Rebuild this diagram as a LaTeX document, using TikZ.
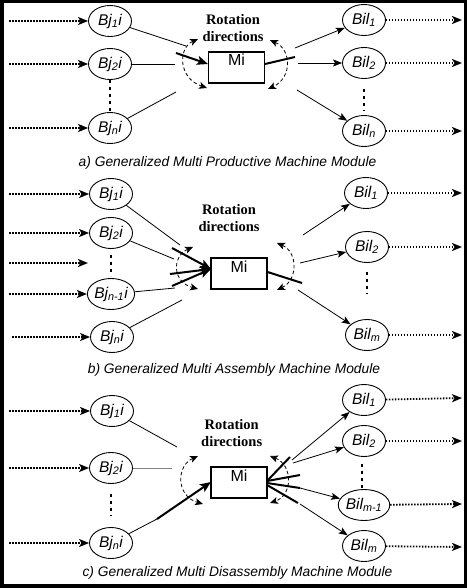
\documentclass[tikz,border=0pt]{standalone}
\usepackage{fontspec}
\setmainfont{Liberation Serif}
\setsansfont{Liberation Sans}
\usetikzlibrary{arrows.meta,shapes.geometric,calc}
\newcommand{\BJ}[1]{Bj\textsubscript{#1}i}
\newcommand{\BIL}[1]{Bil\textsubscript{#1}}
\tikzset{
 bub/.style={draw, ellipse, line width=0.9pt, minimum width=43pt, minimum height=31pt, inner sep=0pt, font=\sffamily\itshape\fontsize{15.5}{15.5}\selectfont},
 feed/.style={line width=1.8pt, dash pattern=on 1.5pt off 1.5pt, -{Stealth[length=10pt,width=8pt,inset=2.5pt]}},
 vdots/.style={line width=2.4pt, dash pattern=on 3pt off 4pt},
 link/.style={line width=0.8pt},
 linkarrow/.style={line width=0.8pt, -{Stealth[length=9pt,width=7pt,inset=2pt]}},
 heavy/.style={line width=2pt},
 heavyarrow/.style={line width=2pt, -{Stealth[length=11pt,width=9pt,inset=2.5pt]}},
 rot/.style={dashed, line width=0.8pt, dash pattern=on 3.5pt off 2.5pt, {Stealth[length=8pt,width=7pt,inset=2pt]}-{Stealth[length=8pt,width=7pt,inset=2pt]}},
 machine/.style={draw, line width=1.1pt, minimum width=56pt, minimum height=31pt, inner sep=0pt},
 mitext/.style={font=\sffamily\fontsize{16}{16}\selectfont, anchor=north, inner sep=0pt},
 rottext/.style={font=\bfseries\fontsize{14.5}{17}\selectfont, align=center, inner sep=0pt},
 captext/.style={font=\sffamily\itshape\fontsize{13.8}{14}\selectfont, inner sep=0pt},
}
\begin{document}
\begin{tikzpicture}[x=1pt,y=-1pt]
\path[use as bounding box] (0,0) rectangle (466,588);
\draw[line width=3.5pt] (2,1.5) rectangle (466,586);

% ---------------- panel a ----------------
\node[bub] (a1) at (110,21) {\BJ{1}};
\node[bub] (a2) at (110,64) {\BJ{2}};
\node[bub] (an) at (110,128) {\BJ{n}};
\node[bub] (o1) at (364,20) {\BIL{1}};
\node[bub] (o2) at (364,63) {\BIL{2}};
\node[bub] (on) at (364,131) {\BIL{n}};
\coordinate (fa1) at (9,21); \coordinate (fa2) at (9,64); \coordinate (fan) at (9,128);
\coordinate (ga1) at (462,20); \coordinate (ga2) at (462,63); \coordinate (gan) at (462,131);
\draw[feed] (fa1) -- (a1); \draw[feed] (fa2) -- (a2); \draw[feed] (fan) -- (an);
\draw[feed] (o1) -- (ga1); \draw[feed] (o2) -- (ga2); \draw[feed] (on) -- (gan);
\draw[vdots] (a2) -- (an);
\coordinate (da1) at (364,89); \coordinate (da2) at (364,111);
\draw[vdots] (da1) -- (da2);
\node[machine] (Ma) at (236.5,67.5) {};
\node[mitext] (Mia) at (236.5,54) {Mi};
\node[rottext] (Ra) at (233,28.5) {Rotation\\directions};
\coordinate (pa1) at (186,46); \coordinate (pa2) at (175,64); \coordinate (pan) at (176,92);
\draw[link] (a1) -- (pa1); \draw[link] (a2) -- (pa2); \draw[link] (an) -- (pan);
\coordinate (ta) at (176,53);
\draw[heavyarrow] (ta) -- ($(Ma.west)+(0,-3.5)$);
\coordinate (tb) at (295,57);
\draw[heavy] ($(Ma.east)+(0,-3.5)$) -- (tb);
\coordinate (qa1) at (295,48); \coordinate (qa2) at (298,63); \coordinate (qan) at (297,90);
\draw[linkarrow] (qa1) -- (o1); \draw[linkarrow] (qa2) -- (o2); \draw[linkarrow] (qan) -- (on);
\draw[rot] (198,39) .. controls (178,48) and (178,78) .. (207,88);
\draw[rot] (270,40) .. controls (292,50) and (292,78) .. (268,89);
\node[captext] (Ca) at (227.5,163) {a) Generalized Multi Productive Machine Module};

% ---------------- panel b ----------------
\node[bub] (b1) at (111,194) {\BJ{1}};
\node[bub] (b2) at (111,233) {\BJ{2}};
\node[bub] (bm1) at (111,294) {\BJ{n-1}};
\node[bub] (bn) at (112,337) {\BJ{n}};
\node[bub] (p1) at (366,193) {\BIL{1}};
\node[bub] (p2) at (367,247) {\BIL{2}};
\node[bub] (pm) at (367,335) {\BIL{m}};
\coordinate (fb1) at (9,194); \coordinate (fb2) at (9,233); \coordinate (fbx) at (9,263);
\coordinate (fbxe) at (88,263); \coordinate (fbm1) at (9,294); \coordinate (fbn) at (12,337);
\draw[feed] (fb1) -- (b1); \draw[feed] (fb2) -- (b2); \draw[feed] (fbx) -- (fbxe);
\draw[feed] (fbm1) -- (bm1); \draw[feed] (fbn) -- (bn);
\coordinate (gb1) at (462,193); \coordinate (gb2) at (462,247); \coordinate (gbm) at (462,335);
\draw[feed] (p1) -- (gb1); \draw[feed] (p2) -- (gb2); \draw[feed] (pm) -- (gbm);
\coordinate (db1) at (111,255); \coordinate (db2) at (111,276);
\draw[vdots] (db1) -- (db2);
\coordinate (db3) at (367,272); \coordinate (db4) at (367,294);
\draw[vdots] (db3) -- (db4);
\node[machine] (Mb) at (239,273.5) {};
\node[mitext] (Mib) at (239,260.5) {Mi};
\node[rottext] (Rb) at (229,218) {Rotation\\directions};
\coordinate (pb1) at (180,245); \coordinate (pb2) at (174,259);
\coordinate (pbm1) at (175,288); \coordinate (pbn) at (182,300);
\draw[link] (b1) -- (pb1); \draw[link] (b2) -- (pb2);
\draw[link] (bm1) -- (pbm1); \draw[link] (bn) -- (pbn);
\coordinate (tb1) at (172,248); \coordinate (tb2) at (170,274); \coordinate (tb3) at (172,286);
\coordinate (mbin) at (211,269);
\draw[heavyarrow] (tb1) -- (mbin); \draw[heavyarrow] (tb2) -- (mbin); \draw[heavyarrow] (tb3) -- (mbin);
\coordinate (tbo) at (302,283);
\draw[heavy] ($(Mb.east)+(0,-1.5)$) -- (tbo);
\coordinate (qb1) at (303,235); \coordinate (qb2) at (300,263); \coordinate (qbm) at (298,290);
\draw[linkarrow] (qb1) -- (p1); \draw[linkarrow] (qb2) -- (p2); \draw[linkarrow] (qbm) -- (pm);
\draw[rot] (193,247) .. controls (172,256) and (172,282) .. (198,289);
\draw[rot] (277,243) .. controls (298,252) and (298,280) .. (277,290);
\node[captext] (Cb) at (234,370) {b) Generalized Multi Assembly Machine Module};

% ---------------- panel c ----------------
\node[bub] (c1) at (112,411) {\BJ{1}};
\node[bub] (c2) at (111,468) {\BJ{2}};
\node[bub] (cn) at (111,543) {\BJ{n}};
\node[bub] (r1) at (364,400) {\BIL{1}};
\node[bub] (r2) at (364,441) {\BIL{2}};
\node[bub] (rm1) at (364,505) {\BIL{m-1}};
\node[bub] (rm) at (364,546) {\BIL{m}};
\coordinate (fc1) at (9,411); \coordinate (fc2) at (9,468); \coordinate (fcn) at (9,543);
\draw[feed] (fc1) -- (c1); \draw[feed] (fc2) -- (c2); \draw[feed] (fcn) -- (cn);
\coordinate (gc1) at (462,398); \coordinate (gc2) at (462,441);
\coordinate (gcm1) at (462,504); \coordinate (gcm) at (462,547);
\draw[feed] (r1) -- (gc1); \draw[feed] (r2) -- (gc2); \draw[feed] (rm1) -- (gcm1); \draw[feed] (rm) -- (gcm);
\coordinate (dc1) at (111,494); \coordinate (dc2) at (111,516);
\draw[vdots] (dc1) -- (dc2);
\coordinate (dc3) at (362,464); \coordinate (dc4) at (362,488);
\draw[vdots] (dc3) -- (dc4);
\node[machine] (Mc) at (239,482.5) {};
\node[mitext] (Mic) at (239,469.5) {Mi};
\node[rottext] (Rc) at (231.7,433.5) {Rotation\\directions};
\coordinate (pc1) at (177,447); \coordinate (pc2) at (172,468); \coordinate (pcn) at (157,519);
\draw[link] (c1) -- (pc1); \draw[link, gray] (c2) -- (pc2); \draw[link] (cn) -- (pcn);
\coordinate (mcin) at (211,482);
\draw[heavyarrow] (pcn) -- (mcin);
\coordinate (mc0) at (267,481); \coordinate (mc1) at (267,483); \coordinate (mc2) at (267,485);
\coordinate (tc1) at (290,457); \coordinate (tc2) at (300,475); \coordinate (tc3) at (300,488); \coordinate (tc4) at (298,503);
\draw[heavy] (mc0) -- (tc1); \draw[heavy] (mc0) -- (tc2); \draw[heavy] (mc1) -- (tc3); \draw[heavy] (mc2) -- (tc4);
\coordinate (qc1) at (292,460); \coordinate (qc2) at (293,463); \coordinate (qcm1) at (300,488); \coordinate (qcm) at (300,504);
\draw[linkarrow] (qc1) -- (r1); \draw[linkarrow] (qc2) -- (r2); \draw[linkarrow] (qcm1) -- (rm1); \draw[linkarrow] (qcm) -- (rm);
\draw[rot] (198,456) .. controls (176,466) and (176,496) .. (203,504);
\draw[rot] (270,456) .. controls (293,465) and (293,495) .. (270,503);
\node[captext] (Cc) at (237.5,573) {c) Generalized Multi Disassembly Machine Module};
\end{tikzpicture}
\end{document}
